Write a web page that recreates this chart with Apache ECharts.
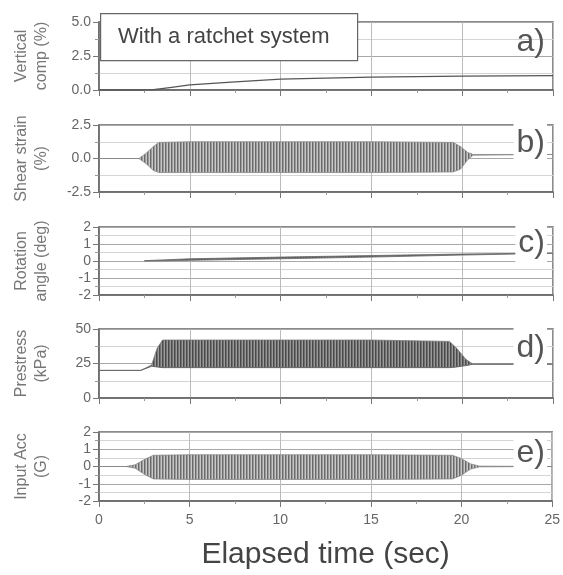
<!DOCTYPE html>
<html><head><meta charset="utf-8">
<script src="https://cdn.jsdelivr.net/npm/echarts@6/dist/echarts.min.js"></script>
<style>html,body{margin:0;padding:0;background:#fff}#c{width:563px;height:575px}</style>
</head><body><div id="c"></div>
<script>
// ---- data ----
const vertT = [0, 2.5, 3, 4, 5, 7.5, 10, 15, 20, 25];
const vertV = [0, 0, 0.03, 0.2, 0.37, 0.6, 0.8, 0.95, 1.02, 1.05];

const shearT  = [0, 2.2, 2.6, 3.0, 3.3, 5, 10, 15, 19.5, 19.9, 20.3, 20.6, 25];
const shearUp = [0, 0, 0.4, 0.9, 1.2, 1.25, 1.25, 1.25, 1.2, 0.9, 0.45, 0.3, 0.3];
const shearLo = [0, 0, -0.4, -0.9, -1.05, -1.05, -1.05, -1.05, -1.0, -0.8, -0.1, 0.25, 0.3];

const rotT  = [2.5, 5, 10, 15, 20, 25];
const rotUp = [0.02, 0.13, 0.23, 0.32, 0.41, 0.47];
const rotLo = [0, 0.04, 0.13, 0.23, 0.35, 0.45];

const preT  = [0, 2.3, 2.9, 3.2, 3.5, 5, 10, 15, 19.3, 19.7, 20.2, 20.6, 25];
const preUp = [20, 20, 24, 36, 42, 42, 42, 42, 41, 36, 28, 24.5, 24.5];
const preLo = [20, 20, 23, 22.5, 22, 22, 22, 22, 22, 22.5, 23.5, 24.5, 24.5];

const accT  = [0, 1.5, 2.0, 2.5, 3.0, 5, 10, 15, 19.5, 20.0, 20.5, 21, 25];
const accUp = [0, 0, 0.1, 0.4, 0.65, 0.68, 0.68, 0.68, 0.65, 0.45, 0.15, 0.02, 0];
const accLo = [0, 0, -0.1, -0.45, -0.72, -0.75, -0.75, -0.75, -0.72, -0.5, -0.15, -0.02, 0];

const panelLabels = ['a)', 'b)', 'c)', 'd)', 'e)'];
const yNames = ['Vertical\ncomp (%)', 'Shear strain\n(%)', 'Rotation\nangle (deg)', 'Prestress\n(kPa)', 'Input Acc\n(G)'];
const yMins = [0, -2.5, -2, 0, -2];
const yMaxs = [5, 2.5, 2, 50, 2];
const yIntervals = [2.5, 2.5, 1, 25, 1];
const yDecimals = [1, 1, 0, 0, 0];
const xMin = 0, xMax = 25, xInterval = 5;
const legendText = 'With a ratchet system';
const xTitle = 'Elapsed time (sec)';

// ---- layout / style ----
const tops = [22, 125, 227, 329, 432];
const heights = [68, 67, 68, 69, 69];
const labelY = [42, 143, 243, 348, 453];
const FONT = 'Liberation Sans, Arial, sans-serif';

function stripes(cols) {
  const c = document.createElement('canvas');
  c.width = cols.length; c.height = 4;
  const g = c.getContext('2d');
  cols.forEach((col, i) => { g.fillStyle = col; g.fillRect(i, 0, 1, 4); });
  return { image: c, repeat: 'repeat' };
}
const patB = stripes(['#6a6a6a', '#9a9a9a', '#c8c8c8']);
const patC = stripes(['#555', '#666', '#777']);
const patD = stripes(['#4a4a4a', '#707070', '#9a9a9a']);
const patE = stripes(['#6a6a6a', '#9a9a9a', '#c8c8c8']);

function zip(a, b) { return a.map((v, i) => [v, b[i]]); }

function band(idx, T, Up, Lo, fill) {
  return {
    type: 'custom', xAxisIndex: idx, yAxisIndex: idx, z: 3, clip: true, silent: true,
    data: T.map((t, i) => [t, Lo[i], Up[i]]),
    encode: { x: 0, y: [1, 2] },
    renderItem: function (params, api) {
      if (params.dataIndex !== 0) return null;
      const pts = [];
      for (let i = 0; i < T.length; i++) pts.push(api.coord([T[i], Up[i]]));
      for (let i = T.length - 1; i >= 0; i--) pts.push(api.coord([T[i], Lo[i]]));
      return { type: 'polygon', shape: { points: pts }, style: { fill: fill, stroke: null } };
    }
  };
}
function edge(idx, T, V, color, w) {
  return { type: 'line', xAxisIndex: idx, yAxisIndex: idx, data: zip(T, V), symbol: 'none',
    lineStyle: { color: color, width: w }, z: 4, silent: true, animation: false };
}

const grids = [], xAxes = [], yAxes = [];
for (let i = 0; i < 5; i++) {
  grids.push({ left: 99, right: 10, top: tops[i], height: heights[i], show: true,
    borderColor: '#666', borderWidth: 1.5, backgroundColor: 'transparent' });
  xAxes.push({
    type: 'value', gridIndex: i, min: xMin, max: xMax, interval: xInterval,
    axisLine: { onZero: false, lineStyle: { color: '#666', width: 1.5 } },
    axisTick: { show: true, inside: false, length: 6, lineStyle: { color: '#777' } },
    minorTick: { show: true, splitNumber: 2, length: 3, lineStyle: { color: '#999' } },
    splitLine: { show: true, lineStyle: { color: '#bbb', width: 1 } },
    axisLabel: { show: i === 4, color: '#666', fontFamily: FONT, fontSize: 14, margin: 12 },
    name: i === 4 ? xTitle : '', nameLocation: 'middle', nameGap: 39,
    nameTextStyle: { color: '#444', fontFamily: FONT, fontSize: 30 }
  });
  yAxes.push({
    type: 'value', gridIndex: i, min: yMins[i], max: yMaxs[i], interval: yIntervals[i],
    axisLine: { show: true, onZero: false, lineStyle: { color: '#666', width: 1.5 } },
    axisTick: { show: true, inside: false, length: 6, lineStyle: { color: '#777' } },
    minorTick: { show: true, splitNumber: 2, length: 4, lineStyle: { color: '#999' } },
    splitLine: { show: true, lineStyle: { color: '#a8a8a8', width: 1 } },
    minorSplitLine: { show: true, lineStyle: { color: '#d4d4d4', width: 1 } },
    axisLabel: { color: '#666', fontFamily: FONT, fontSize: 14, margin: 8,
      formatter: (v) => Number(v).toFixed(yDecimals[i]) },
    name: yNames[i], nameLocation: 'middle', nameRotate: 90, nameGap: 47,
    nameTextStyle: { color: '#777', fontFamily: FONT, fontSize: 16, lineHeight: 20 }
  });
}

const series = [
  edge(0, vertT, vertV, '#555', 1.3),
  band(1, shearT, shearUp, shearLo, patB),
  edge(1, shearT, shearUp, '#888', 0.8),
  edge(1, shearT, shearLo, '#888', 0.8),
  band(2, rotT, rotUp, rotLo, patC),
  edge(2, rotT, rotUp, '#666', 0.8),
  edge(2, rotT, rotLo, '#666', 0.8),
  band(3, preT, preUp, preLo, patD),
  edge(3, preT, preUp, '#777', 0.8),
  edge(3, preT, preLo, '#666', 1),
  band(4, accT, accUp, accLo, patE),
  edge(4, accT, accUp, '#888', 0.8),
  edge(4, accT, accLo, '#888', 0.8)
];

const graphic = [
  { type: 'rect', left: 100, top: 13, shape: { width: 257, height: 47 }, z: 100,
    style: { fill: '#fff', stroke: '#666', lineWidth: 1.2 } },
  { type: 'text', x: 118, y: 37, z: 101,
    style: { text: legendText, fill: '#444', font: '22px ' + FONT, verticalAlign: 'middle', align: 'left' } }
];
panelLabels.forEach((t, i) => {
  graphic.push({ type: 'text', x: 547, y: labelY[i], z: 100,
    style: { text: t, fill: '#555', font: '32px ' + FONT, align: 'right', verticalAlign: 'middle',
      backgroundColor: i === 0 ? 'transparent' : '#fff', padding: [4, 2, 4, 3] } });
});

const chart = echarts.init(document.getElementById('c'), null, { renderer: 'canvas' });
chart.setOption({
  backgroundColor: '#fff', animation: false,
  grid: grids, xAxis: xAxes, yAxis: yAxes, series: series, graphic: graphic
});
</script></body></html>
